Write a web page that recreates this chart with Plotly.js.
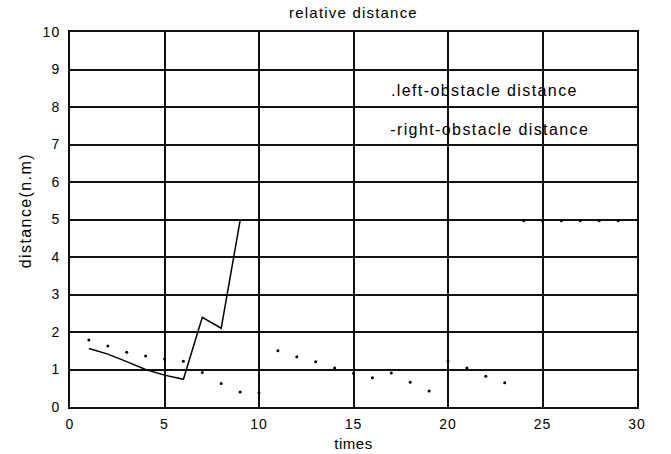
<!DOCTYPE html>
<html>
<head>
<meta charset="utf-8">
<script src="https://cdn.plot.ly/plotly-3.0.1.min.js"></script>
<style>
html,body{margin:0;padding:0;background:#fff;}
#chart{width:671px;height:454px;}
#chart .gtitle{letter-spacing:1.2px;}
#chart .annotation-text{letter-spacing:1.4px;}
#chart .xtick text,#chart .ytick text{letter-spacing:1px;}
#chart .xtitle{letter-spacing:0.5px;}
</style>
</head>
<body>
<div id="chart"></div>
<script>
// left-obstacle distance (dots)
const leftX = [1,2,3,4,5,6,7,8,9,10,11,12,13,14,15,16,17,18,19,20,21,22,23,24,25,26,27,28,29];
const leftY = [1.79,1.63,1.46,1.36,1.28,1.22,0.92,0.63,0.40,0.38,1.50,1.34,1.21,1.04,0.90,0.78,0.91,0.66,0.43,1.23,1.04,0.82,0.65,4.97,4.97,4.97,4.97,4.97,4.97];
// right-obstacle distance (line)
const rightX = [1,2,3,4,5,6,7,8,9];
const rightY = [1.56,1.41,1.21,1.0,0.85,0.74,2.39,2.10,4.97];

const titleText = "relative distance";
const xTitle = "times";
const yTitle = "distance(n.m)";
const legendLines = [".left-obstacle distance", "-right-obstacle distance"];

const font = "Arial, 'Liberation Sans', sans-serif";

const traces = [
  {x: leftX, y: leftY, mode: 'markers', type: 'scatter',
   marker: {color: '#000', size: 3}, name: legendLines[0], showlegend: false},
  {x: rightX, y: rightY, mode: 'lines', type: 'scatter',
   line: {color: '#000', width: 1.5}, name: legendLines[1], showlegend: false}
];

const layout = {
  width: 671, height: 454,
  margin: {l: 70, r: 34, t: 32, b: 47},
  paper_bgcolor: '#fff', plot_bgcolor: '#fff',
  font: {family: font, color: '#000', size: 14},
  title: {text: titleText, font: {family: font, size: 15, color: '#000'}, x: 0.5, xanchor: 'center', xref: 'paper', y: 0.972, yref: 'container', yanchor: 'middle'},
  xaxis: {
    range: [0, 30], dtick: 5, tick0: 0,
    showgrid: true, gridcolor: '#111', gridwidth: 2,
    showline: true, linecolor: '#111', linewidth: 2, mirror: true,
    zeroline: false, ticks: '', ticklen: 0, ticklabelstandoff: 3,
    tickfont: {family: font, size: 14, color: '#000'},
    title: {text: xTitle, font: {family: font, size: 15, color: '#000'}, standoff: 8}
  },
  yaxis: {
    range: [0, 10], dtick: 1, tick0: 0,
    showgrid: true, gridcolor: '#111', gridwidth: 2,
    showline: true, linecolor: '#111', linewidth: 2, mirror: true,
    zeroline: false, ticks: '', ticklen: 0, ticklabelstandoff: 5,
    tickfont: {family: font, size: 14, color: '#000'}
  },
  annotations: [
    {x: 17.75, y: 8.44, xref: 'x', yref: 'y', text: legendLines[0], showarrow: false,
     xanchor: 'left', yanchor: 'middle', font: {family: font, size: 16, color: '#000'}},
    {x: 17.75, y: 7.41, xref: 'x', yref: 'y', text: legendLines[1], showarrow: false,
     xanchor: 'left', yanchor: 'middle', font: {family: font, size: 16, color: '#000'}},
    {x: -0.0794, y: 0.525, xref: 'paper', yref: 'paper', text: yTitle, showarrow: false,
     textangle: -90, xanchor: 'center', yanchor: 'middle', font: {family: font, size: 16, color: '#000'}}
  ],
  showlegend: false
};

Plotly.newPlot('chart', traces, layout, {displayModeBar: false, staticPlot: true});
</script>
</body>
</html>
